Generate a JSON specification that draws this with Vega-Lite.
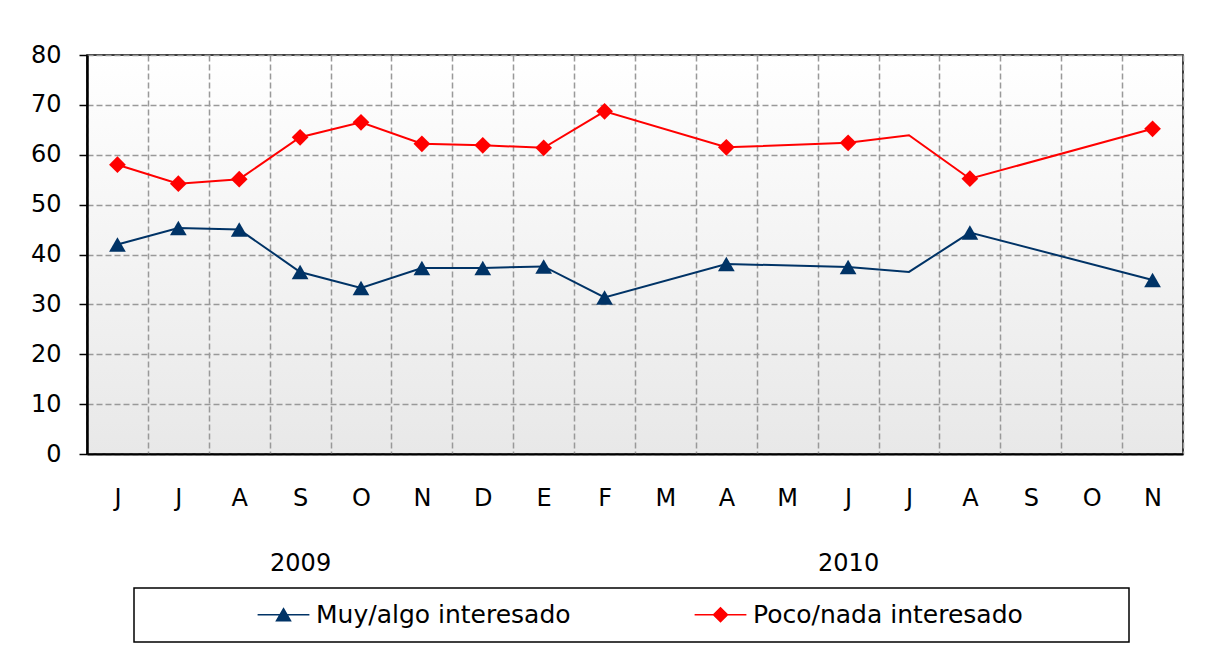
{
  "$schema": "https://vega.github.io/schema/vega-lite/v6.json",
  "width": 1096,
  "height": 399,
  "autosize": {"type": "none"},
  "padding": {"left": 87, "top": 55, "right": 40, "bottom": 208},
  "background": "#ffffff",
  "config": {
    "font": "DejaVu Sans",
    "view": {
      "fill": {"gradient": "linear", "x1": 0, "y1": 0, "x2": 0, "y2": 1, "stops": [{"offset": 0, "color": "#ffffff"}, {"offset": 1, "color": "#e8e8e8"}]},
      "stroke": "#000000",
      "strokeWidth": 1.5
    },
    "axisX": {
      "tickBand": "extent",
      "grid": true,
      "gridColor": "#999999",
      "gridDash": [6, 3],
      "gridWidth": 1.5,
      "gridOpacity": 1,
      "ticks": false,
      "domain": true,
      "domainColor": "#000000",
      "domainWidth": 2,
      "labelFont": "DejaVu Sans",
      "labelFontSize": 24,
      "labelColor": "#000000",
      "labelPadding": 32,
      "labelAngle": 0,
      "labelLineHeight": 65,
      "labelOverlap": false,
      "title": null
    },
    "axisY": {
      "grid": true,
      "gridColor": "#999999",
      "gridDash": [6, 3],
      "gridWidth": 1.5,
      "gridOpacity": 1,
      "domainColor": "#000000",
      "domainWidth": 2.5,
      "tickColor": "#000000",
      "tickSize": 8,
      "tickWidth": 1.5,
      "labelFont": "DejaVu Sans",
      "labelFontSize": 24,
      "labelColor": "#000000",
      "labelPadding": 18,
      "title": null
    }
  },
  "data": {
    "values": [
      {"mes": "2009-06", "serie": "Muy/algo interesado", "valor": 42.0},
      {"mes": "2009-07", "serie": "Muy/algo interesado", "valor": 45.3},
      {"mes": "2009-08", "serie": "Muy/algo interesado", "valor": 45.0},
      {"mes": "2009-09", "serie": "Muy/algo interesado", "valor": 36.5},
      {"mes": "2009-10", "serie": "Muy/algo interesado", "valor": 33.3},
      {"mes": "2009-11", "serie": "Muy/algo interesado", "valor": 37.3},
      {"mes": "2009-12", "serie": "Muy/algo interesado", "valor": 37.3},
      {"mes": "2010-01", "serie": "Muy/algo interesado", "valor": 37.6},
      {"mes": "2010-02", "serie": "Muy/algo interesado", "valor": 31.4},
      {"mes": "2010-04", "serie": "Muy/algo interesado", "valor": 38.1},
      {"mes": "2010-06", "serie": "Muy/algo interesado", "valor": 37.5},
      {"mes": "2010-07", "serie": "Muy/algo interesado", "valor": 36.5},
      {"mes": "2010-08", "serie": "Muy/algo interesado", "valor": 44.4},
      {"mes": "2010-11", "serie": "Muy/algo interesado", "valor": 34.9},
      {"mes": "2009-06", "serie": "Poco/nada interesado", "valor": 58.0},
      {"mes": "2009-07", "serie": "Poco/nada interesado", "valor": 54.2},
      {"mes": "2009-08", "serie": "Poco/nada interesado", "valor": 55.1},
      {"mes": "2009-09", "serie": "Poco/nada interesado", "valor": 63.5},
      {"mes": "2009-10", "serie": "Poco/nada interesado", "valor": 66.5},
      {"mes": "2009-11", "serie": "Poco/nada interesado", "valor": 62.2},
      {"mes": "2009-12", "serie": "Poco/nada interesado", "valor": 61.9},
      {"mes": "2010-01", "serie": "Poco/nada interesado", "valor": 61.4},
      {"mes": "2010-02", "serie": "Poco/nada interesado", "valor": 68.7},
      {"mes": "2010-04", "serie": "Poco/nada interesado", "valor": 61.5},
      {"mes": "2010-06", "serie": "Poco/nada interesado", "valor": 62.4},
      {"mes": "2010-07", "serie": "Poco/nada interesado", "valor": 63.9},
      {"mes": "2010-08", "serie": "Poco/nada interesado", "valor": 55.2},
      {"mes": "2010-11", "serie": "Poco/nada interesado", "valor": 65.2}
    ]
  },
  "encoding": {
    "x": {
      "field": "mes",
      "type": "nominal",
      "scale": {
        "type": "band",
        "paddingInner": 0,
        "paddingOuter": 0,
        "domain": ["2009-06", "2009-07", "2009-08", "2009-09", "2009-10", "2009-11", "2009-12", "2010-01", "2010-02", "2010-03", "2010-04", "2010-05", "2010-06", "2010-07", "2010-08", "2010-09", "2010-10", "2010-11"]
      },
      "axis": {
        "labelExpr": "datum.value === '2009-09' ? ['S', '2009'] : datum.value === '2010-06' ? ['J', '2010'] : ['E','F','M','A','M','J','J','A','S','O','N','D'][toNumber(substring(datum.value, 5, 7)) - 1]"
      }
    },
    "y": {
      "field": "valor",
      "type": "quantitative",
      "scale": {"domain": [0, 80], "nice": false},
      "axis": {"values": [0, 10, 20, 30, 40, 50, 60, 70, 80]}
    }
  },
  "layer": [
    {
      "mark": {"type": "line", "strokeWidth": 2},
      "encoding": {
        "color": {
          "field": "serie",
          "type": "nominal",
          "scale": {"domain": ["Muy/algo interesado", "Poco/nada interesado"], "range": ["#003366", "#ff0000"]},
          "legend": {
            "orient": "none",
            "legendX": 47,
            "legendY": 533,
            "direction": "horizontal",
            "title": null,
            "labelFont": "DejaVu Sans",
            "labelFontSize": 25,
            "labelColor": "#000000",
            "labelLimit": 1000,
            "symbolSize": 196,
            "symbolOffset": 123,
            "labelOffset": 20,
            "columnPadding": 14,
            "padding": 14,
            "labelExpr": "datum.label === 'Poco/nada interesado' ? datum.label + '\u2800\u2800\u2800\u2800\u2800' : datum.label",
            "encode": {
              "symbols": {
                "update": {
                  "shape": {"signal": "datum.value === 'Muy/algo interesado' ? 'M-3.7,0H3.7M0,-0.87L1,0.87L-1,0.87Z' : 'M-3.7,0H3.7M-1,0L0,-1L1,0L0,1Z'"},
                  "fill": {"signal": "datum.value === 'Muy/algo interesado' ? '#003366' : '#ff0000'"},
                  "stroke": {"signal": "datum.value === 'Muy/algo interesado' ? '#003366' : '#ff0000'"},
                  "strokeWidth": {"value": 1.5},
                  "opacity": {"value": 1}
                }
              },
              "legend": {
                "update": {
                  "stroke": {"value": "#000000"},
                  "strokeWidth": {"value": 1.5},
                  "fill": {"value": "#ffffff"}
                }
              }
            }
          }
        }
      }
    },
    {
      "transform": [{"filter": "datum.mes !== '2010-07' && datum.serie === 'Muy/algo interesado'"}],
      "mark": {"type": "point", "filled": true, "size": 280, "opacity": 1, "shape": "triangle-up", "color": "#003366"}
    },
    {
      "transform": [{"filter": "datum.mes !== '2010-07' && datum.serie === 'Poco/nada interesado'"}],
      "mark": {"type": "point", "filled": true, "size": 280, "opacity": 1, "shape": "diamond", "color": "#ff0000"}
    }
  ]
}
